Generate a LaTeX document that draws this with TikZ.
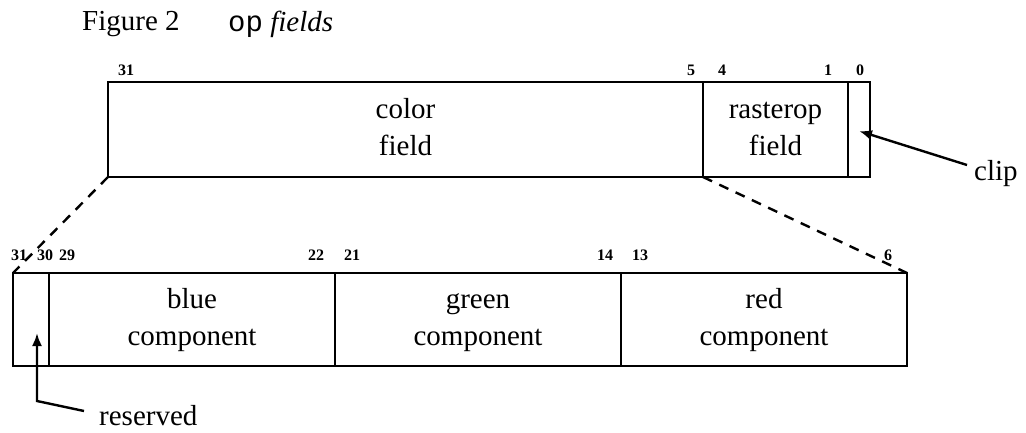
\documentclass[tikz,border=0pt]{standalone}
\usepackage{fontspec}
\setmainfont{Liberation Serif}
\setmonofont{Liberation Mono}
\usetikzlibrary{arrows.meta}
\begin{document}
\begin{tikzpicture}[x=1pt,y=-1pt,
  fld/.style={draw,line width=2.2pt,inner sep=0pt,outer sep=0pt,align=center,
    font=\fontsize{29}{37}\selectfont},
  bitno/.style={inner sep=0pt,font=\fontsize{16}{18}\selectfont\bfseries},
  lbl/.style={inner sep=0pt,font=\fontsize{29}{35}\selectfont},
  conn/.style={line width=2.4pt},
  ptr/.style={line width=2.4pt,-{Latex[length=13pt,width=10pt]}}]
\useasboundingbox (0,0) rectangle (1026,432);
% title
\node[lbl,anchor=west] (title) at (82,24) {Figure 2};
\node[lbl,anchor=west] (titleop) at (228,24) {\texttt{op} \textit{fields}};
% top register
\node[fld,minimum width=595pt,minimum height=95pt] (color) at (405.5,129.5) {\strut color\\\strut field};
\node[fld,minimum width=145pt,minimum height=95pt] (raster) at (775.5,129.5) {\strut rasterop\\\strut field};
\node[fld,minimum width=22pt,minimum height=95pt] (clipbox) at (859,129.5) {};
% top bit numbers
\node[bitno] (b31) at (126,70) {31};
\node[bitno] (b5) at (691,70) {5};
\node[bitno] (b4) at (722,70) {4};
\node[bitno] (b1) at (828,70) {1};
\node[bitno] (b0) at (860,70) {0};
% bottom register
\node[fld,minimum width=36pt,minimum height=93pt] (res) at (31,319.5) {};
\node[fld,minimum width=286pt,minimum height=93pt] (blue) at (192,319.5) {\strut blue\\\strut component};
\node[fld,minimum width=286pt,minimum height=93pt] (green) at (478,319.5) {\strut green\\\strut component};
\node[fld,minimum width=286pt,minimum height=93pt] (red) at (764,319.5) {\strut red\\\strut component};
% bottom bit numbers
\node[bitno] (c31) at (19,255) {31};
\node[bitno] (c30) at (45,255) {30};
\node[bitno] (c29) at (67,255) {29};
\node[bitno] (c22) at (316,255) {22};
\node[bitno] (c21) at (352,255) {21};
\node[bitno] (c14) at (605,255) {14};
\node[bitno] (c13) at (640,255) {13};
\node[bitno] (c6) at (888,255) {6};
% expansion lines
\draw[conn,dash pattern=on 10pt off 8pt] (color.south west) -- (res.north west);
\draw[conn,dash pattern=on 10pt off 8pt] (color.south east) -- (red.north east);
% clip label
\node[lbl,anchor=west] (cliplbl) at (974,174) {clip};
\coordinate (clipstart) at (967,165);
\coordinate (cliptip) at (859,131);
\draw[ptr] (clipstart) -- (cliptip);
% reserved label
\node[lbl,anchor=west] (reslbl) at (99,416) {reserved};
\coordinate (resstart) at (84,411);
\coordinate (resbend) at (37,401);
\coordinate (restip) at (37,333);
\draw[ptr] (resstart) -- (resbend) -- (restip);
\end{tikzpicture}
\end{document}
